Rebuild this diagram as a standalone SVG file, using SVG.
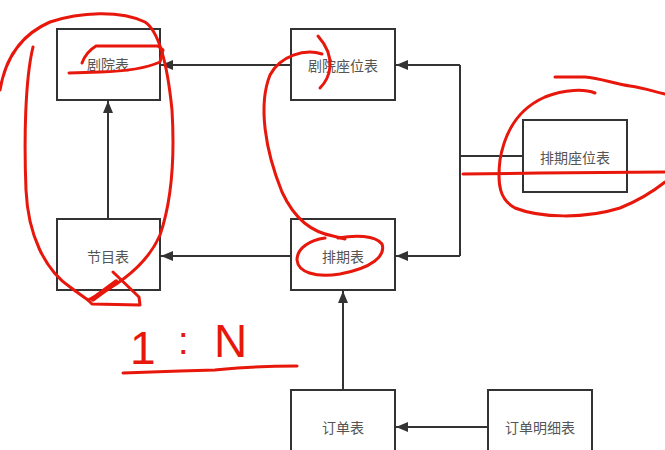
<svg xmlns="http://www.w3.org/2000/svg" width="665" height="450" viewBox="0 0 665 450">
<style>
.box{fill:#fff;stroke:#333;stroke-width:2}
.lbl{font-family:"Noto Sans CJK SC","Noto Sans",sans-serif;font-size:14px;fill:#555;text-anchor:middle;dominant-baseline:central}
.edge{fill:none;stroke:#333;stroke-width:2}
.red{fill:none;stroke:#e8170c;stroke-width:3;stroke-linecap:round;stroke-linejoin:round}
.hand{font-family:"Liberation Sans",sans-serif;fill:#e8170c;font-weight:300}
</style>
<defs>
<marker id="arr" viewBox="0 0 12 10" refX="12" refY="5" markerWidth="6" markerHeight="5" orient="auto">
<path d="M0,0 L12,5 L0,10 z" fill="#333"/>
</marker>
</defs>
<rect width="665" height="450" fill="#fff"/>
<g id="edges">
<path class="edge" d="M108,218 V101" marker-end="url(#arr)"/>
<path class="edge" d="M291,65 H161" marker-end="url(#arr)"/>
<path class="edge" d="M291,256 H161" marker-end="url(#arr)"/>
<path class="edge" d="M343,390 V291" marker-end="url(#arr)"/>
<path class="edge" d="M488,427 H396" marker-end="url(#arr)"/>
<path class="edge" d="M523,156 H460"/>
<path class="edge" d="M460,65 V256"/>
<path class="edge" d="M460,65 H396" marker-end="url(#arr)"/>
<path class="edge" d="M460,256 H396" marker-end="url(#arr)"/>
</g>
<g id="n_juyuan"><rect class="box" x="57" y="29" width="103" height="71"/><text class="lbl" x="108" y="64">剧院表</text></g>
<g id="n_jiemu"><rect class="box" x="57" y="219" width="103" height="71"/><text class="lbl" x="108" y="256">节目表</text></g>
<g id="n_juyuanzuowei"><rect class="box" x="291" y="29" width="104" height="71"/><text class="lbl" x="343" y="65">剧院座位表</text></g>
<g id="n_paiqi"><rect class="box" x="291" y="219" width="104" height="71"/><text class="lbl" x="343" y="256">排期表</text></g>
<g id="n_paiqizuowei"><rect class="box" x="523" y="120" width="104" height="72"/><text class="lbl" x="575" y="157">排期座位表</text></g>
<g id="n_dingdan"><rect class="box" x="291" y="390" width="104" height="72"/><text class="lbl" x="343" y="427">订单表</text></g>
<g id="n_dingdanmingxi"><rect class="box" x="488" y="390" width="104" height="72"/><text class="lbl" x="540" y="427">订单明细表</text></g>
<g id="annotations">
<path class="red" d="M0,90 C5,60 20,35 50,22 C80,12 120,10 145,22 C160,32 168,70 172,110 C175,160 172,200 160,235 C150,258 130,280 88,300"/>
<path class="red" d="M33,47 C25,80 24,140 26,190 C28,235 45,270 70,287 C78,293 84,297 88,300 L92,304 L140,305 L139,297 L113,272"/>
<path class="red" d="M93,299 L116,282" style="stroke-width:5"/>
<path class="red" d="M69,73 L100,72 Q140,71 160,62 L163,50 L158,46 L96,46 Q86,52 82,63"/>
<path class="red" d="M318,36 C326,45 331,55 330,67 C329,77 324,84 320,88"/>
<path class="red" d="M322,54 C305,48 280,56 270,75 C258,105 265,150 282,192 C295,220 312,232 333,236 L345,239"/>
<path class="red" d="M338,238 C355,235 375,235 382,244 C386,256 372,268 340,274 C315,278 298,272 297,260 C297,248 310,240 325,238"/>
<path class="red" d="M595,93 C585,89 565,89 545,97 C520,108 505,130 500,160 C497,185 500,200 515,208 C540,218 585,219 620,208 C640,200 655,190 665,182"/>
<path class="red" d="M555,77 L585,77 C600,78 615,84 630,86 C645,88 655,92 665,94"/>
<path class="red" d="M463,174 L540,173 L665,172"/>
<path class="red" d="M123,373 L180,371 L215,370 C235,368 250,366 297,366"/>
<text class="hand" x="130" y="364" font-size="46">1</text>
<text class="hand" x="178" y="354" font-size="38">:</text>
<text class="hand" x="214" y="357" font-size="46">N</text>
</g>
</svg>
